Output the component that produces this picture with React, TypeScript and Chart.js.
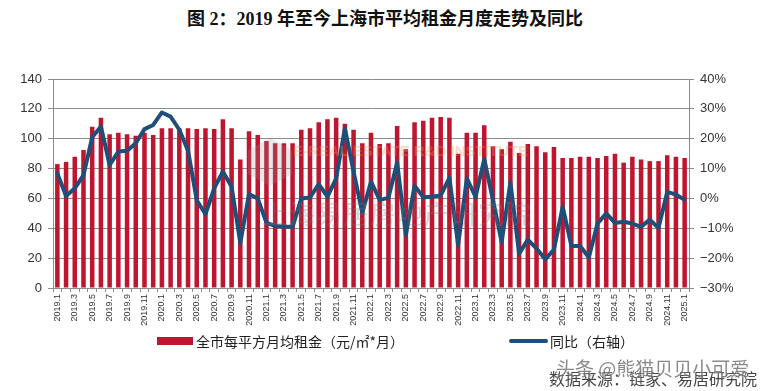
import React, { useEffect, useRef } from "react";
import { Chart, registerables } from "chart.js";

Chart.register(...registerables);

const months: string[] = [
  "2019.1", "2019.2", "2019.3", "2019.4", "2019.5", "2019.6", "2019.7", "2019.8", "2019.9", "2019.10", "2019.11", "2019.12",
  "2020.1", "2020.2", "2020.3", "2020.4", "2020.5", "2020.6", "2020.7", "2020.8", "2020.9", "2020.10", "2020.11", "2020.12",
  "2021.1", "2021.2", "2021.3", "2021.4", "2021.5", "2021.6", "2021.7", "2021.8", "2021.9", "2021.10", "2021.11", "2021.12",
  "2022.1", "2022.2", "2022.3", "2022.4", "2022.5", "2022.6", "2022.7", "2022.8", "2022.9", "2022.10", "2022.11", "2022.12",
  "2023.1", "2023.2", "2023.3", "2023.4", "2023.5", "2023.6", "2023.7", "2023.8", "2023.9", "2023.10", "2023.11", "2023.12",
  "2024.1", "2024.2", "2024.3", "2024.4", "2024.5", "2024.6", "2024.7", "2024.8", "2024.9", "2024.10", "2024.11", "2024.12",
  "2025.1",
];

// 全市每平方月均租金（元/㎡*月）
const rent: number[] = [
  83, 84.5, 88, 92.5, 108, 114, 103, 104, 103, 102, 104, 102.5,
  107, 107, 107, 107, 106.5, 107, 106.5, 113, 107, 86, 105, 102.5,
  98.5, 97, 97, 97, 106, 107, 111, 113, 114, 110, 106, 97,
  104, 96.5, 97, 108.5, 93, 111, 112, 114, 114.5, 114, 90, 104,
  104, 109, 95, 93, 98, 90.5, 96.5, 95, 91, 94.5, 87, 87,
  88, 88, 87, 88.5, 90, 84, 88, 86, 85, 85, 89, 88,
  87,
];

// 同比（右轴），%
const yoy: number[] = [
  8.4, 0.8, 3.4, 7.8, 20.5, 24.1, 11.2, 15.7, 16.0, 18.5, 23.2, 24.6,
  28.8, 27.4, 23.0, 16.0, -0.6, -5.3, 3.4, 9.0, 3.9, -14.9, 1.5, 0.0,
  -8.2, -9.2, -9.5, -9.5, 0.0, 0.3, 4.8, 0.6, 6.7, 23.5, 9.0, -4.8,
  5.6, -0.5, 0.2, 12.0, -12.3, 4.3, 0.4, 0.6, 1.0, 6.9, -15.7, 6.7,
  0.5, 13.2, -0.6, -14.6, 5.4, -18.5, -13.8, -16.8, -20.4, -17.1, -2.8, -15.9,
  -15.9, -19.8, -8.4, -5.0, -8.2, -7.8, -8.4, -9.5, -7.1, -9.9, 2.2, 1.3,
  -0.5,
];

const barLabel = "全市每平方月均租金（元/㎡*月）";
const lineLabel = "同比（右轴）";
const title = "图 2：2019 年至今上海市平均租金月度走势及同比";

const RED = "#BF1630";
const BLUE = "#1F4E79";
const GRID = "#8C8C8C";
const SANS = "'Liberation Sans', Arial, 'Noto Sans CJK SC', sans-serif";
const CJK = "'Noto Sans CJK SC', 'Liberation Sans', sans-serif";

export default function App() {
  const ref = useRef<HTMLCanvasElement | null>(null);

  useEffect(() => {
    document.body.style.margin = "0";
    const canvas = ref.current;
    if (!canvas) return;
    const chart = new Chart(canvas, {
      type: "bar",
      data: {
        labels: months,
        datasets: [
          {
            type: "line",
            label: lineLabel,
            data: yoy,
            yAxisID: "y1",
            borderColor: BLUE,
            backgroundColor: BLUE,
            borderWidth: 4,
            pointRadius: 0,
            tension: 0,
            borderJoinStyle: "round",
            borderCapStyle: "round",
          } as any,
          {
            type: "bar",
            label: barLabel,
            data: rent,
            yAxisID: "y",
            backgroundColor: RED,
            categoryPercentage: 1,
            barPercentage: 0.52,
          },
        ],
      },
      options: {
        animation: false,
        responsive: false,
        maintainAspectRatio: false,
        layout: { padding: { top: 79, left: 0, right: 0, bottom: 0 } },
        plugins: {
          legend: { display: false },
          title: { display: false },
          tooltip: { enabled: false },
        },
        scales: {
          x: {
            offset: true,
            grid: { display: true, drawOnChartArea: false, drawTicks: true, tickLength: 4, color: GRID },
            border: { display: true, color: GRID },
            ticks: {
              autoSkip: false,
              minRotation: 90,
              maxRotation: 90,
              padding: 2,
              color: "#333333",
              font: { size: 9, family: SANS },
              callback: (_v: any, i: number) => (i % 2 === 0 ? months[i] : ""),
            },
            afterFit: (s: any) => {
              s.height = 103;
            },
          },
          y: {
            position: "left",
            min: 0,
            max: 140,
            ticks: { stepSize: 20, padding: 6, color: "#333333", font: { size: 13, family: SANS } },
            grid: { color: GRID, tickLength: 5, lineWidth: 1 },
            border: { display: true, color: GRID },
            afterFit: (s: any) => {
              s.width = 53;
            },
          },
          y1: {
            position: "right",
            min: -30,
            max: 40,
            ticks: {
              stepSize: 10,
              padding: 6,
              color: "#333333",
              font: { size: 13, family: SANS },
              callback: (v: any) => (Number(v) < 0 ? "\u2212" : "") + Math.abs(Number(v)) + "%",
            },
            grid: { drawOnChartArea: false, tickLength: 5, color: GRID },
            border: { display: true, color: GRID },
            afterFit: (s: any) => {
              s.width = 81;
            },
          },
        },
      },
    });
    return () => chart.destroy();
  }, []);

  return (
    <div style={{ position: "fixed", left: 0, top: 0, width: 770, height: 391, background: "#fff", overflow: "hidden" }}>
      <div
        style={{
          position: "absolute",
          left: 0,
          top: 7,
          width: 770,
          textAlign: "center",
          fontFamily: "'Liberation Serif', 'Noto Sans CJK SC', serif",
          fontWeight: "bold",
          fontSize: 18,
          lineHeight: "24px",
          color: "#111",
        }}
      >
        {title}
      </div>
      <canvas ref={ref} width={770} height={391} style={{ position: "absolute", left: 0, top: 0, width: 770, height: 391 }} />
      {/* watermark */}
      <div style={{ position: "absolute", left: 248, top: 138, width: 44, height: 48, background: "rgba(150,150,150,0.22)", clipPath: "polygon(50% 0, 100% 25%, 100% 75%, 50% 100%, 0 75%, 0 25%)", pointerEvents: "none" }} />
      <div style={{ position: "absolute", left: 293, top: 142, fontFamily: SANS, fontSize: 15, fontWeight: "bold", color: "rgba(240,150,90,0.35)", whiteSpace: "nowrap", pointerEvents: "none", letterSpacing: 0 }}>
        E-REAL ESTATE R&amp;D INSTITUTE
      </div>
      <div style={{ position: "absolute", left: 262, top: 194, fontFamily: CJK, fontSize: 26, color: "rgba(120,120,120,0.3)", whiteSpace: "nowrap", pointerEvents: "none", letterSpacing: 1 }}>
        上海易居房地产研究院
      </div>
      {/* legend */}
      <div style={{ position: "absolute", left: 157, top: 337, width: 36, height: 8, background: RED }} />
      <div style={{ position: "absolute", left: 196, top: 331, fontFamily: CJK, fontSize: 14, lineHeight: "20px", color: "#222", whiteSpace: "nowrap" }}>
        {barLabel}
      </div>
      <div style={{ position: "absolute", left: 509, top: 339, width: 39, height: 4, background: BLUE, borderRadius: 2 }} />
      <div style={{ position: "absolute", left: 550, top: 331, fontFamily: CJK, fontSize: 14, lineHeight: "20px", color: "#222", whiteSpace: "nowrap" }}>
        {lineLabel}
      </div>
      {/* source */}
      <div style={{ position: "absolute", left: 549, top: 368, fontFamily: CJK, fontSize: 16, lineHeight: "20px", color: "#444", whiteSpace: "nowrap" }}>
        数据来源：链家、易居研究院
      </div>
      <div style={{ position: "absolute", left: 556, top: 356, fontFamily: CJK, fontSize: 19, lineHeight: "24px", color: "rgba(40,40,40,0.55)", whiteSpace: "nowrap", textShadow: "0 0 2px #fff" }}>
        头条 @熊猫贝贝小可爱
      </div>
    </div>
  );
}
